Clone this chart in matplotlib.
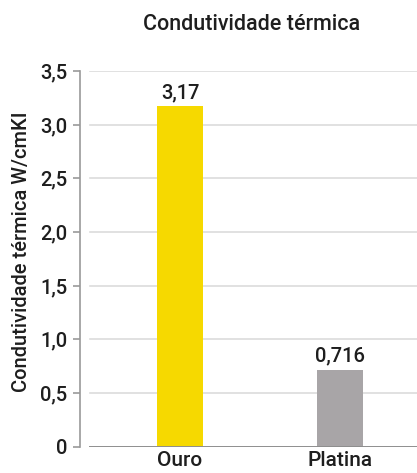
import matplotlib.pyplot as plt
from matplotlib.ticker import FuncFormatter

materiais = ['Ouro', 'Platina']
condutividade = [3.17, 0.716]
rotulos = ['3,17', '0,716']
cores = ['#F6D900', '#A8A5A7']
yticks = [0, 0.5, 1.0, 1.5, 2.0, 2.5, 3.0, 3.5]

plt.rcParams['font.family'] = ['Roboto', 'DejaVu Sans']
plt.rcParams['font.weight'] = 'medium'

fig = plt.figure(figsize=(4.17, 4.73), dpi=100)
ax = fig.add_axes([0.1918, 0.0556, 0.8082, 0.7947])

x = range(len(materiais))
barras = ax.bar(x, condutividade, width=0.29, color=cores, zorder=3)
ax.bar_label(barras, labels=rotulos, padding=3, fontsize=14.5, color='#1E1E1E')

ax.set_xlim(-0.625, 1.48)
ax.set_ylim(0, 3.5)
ax.set_yticks(yticks)
ax.yaxis.set_major_formatter(FuncFormatter(
    lambda v, p: '0' if v == 0 else ('%.1f' % v).replace('.', ',')))
ax.set_xticks(list(x))
ax.set_xticklabels(materiais)

for v in yticks[1:]:
    ax.axhline(v, xmin=0.03, xmax=1, color='#DCDCDC', lw=1.2, zorder=1)
ax.axhline(0, xmin=0.03, xmax=1, color='#8E8E8E', lw=1.4, zorder=4)

for s in ['top', 'right', 'bottom']:
    ax.spines[s].set_visible(False)
ax.spines['left'].set_color('#999999')
ax.spines['left'].set_linewidth(1.2)

ax.tick_params(axis='y', length=5, width=1.2, color='#999999',
               labelsize=14.5, labelcolor='#1E1E1E', pad=4)
ax.tick_params(axis='x', length=0, labelsize=15, labelcolor='#1E1E1E', pad=3)

ax.set_ylabel('Condutividade térmica W/cmKI', fontsize=14.5, color='#1E1E1E',
              fontweight='medium')
ax.yaxis.set_label_coords(-0.145, 0.519)
fig.text(0.604, 0.949, 'Condutividade térmica', ha='center', va='center',
         fontsize=15.5, color='#1E1E1E', fontweight='medium')

fig.savefig('out.png', dpi=100)
